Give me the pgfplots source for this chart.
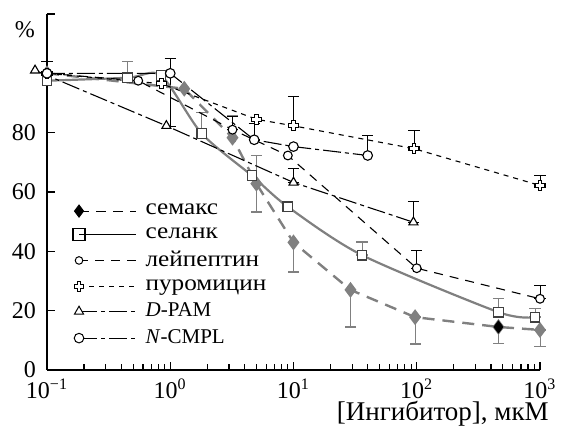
\documentclass[border=0pt]{standalone}
\usepackage{fontspec}
\setmainfont{Liberation Serif}
\usepackage{pgfplots}
\pgfplotsset{compat=1.18}
\usepackage{pgfplotstable}
\definecolor{gr}{gray}{0.5}
\newcommand{\cyr}[1]{\scalebox{1.2}[1.08]{#1}}

\pgfdeclareplotmark{ocross}{%
  \pgfpathmoveto{\pgfqpoint{-0.38\pgfplotmarksize}{\pgfplotmarksize}}%
  \pgfpathlineto{\pgfqpoint{0.38\pgfplotmarksize}{\pgfplotmarksize}}%
  \pgfpathlineto{\pgfqpoint{0.38\pgfplotmarksize}{0.38\pgfplotmarksize}}%
  \pgfpathlineto{\pgfqpoint{\pgfplotmarksize}{0.38\pgfplotmarksize}}%
  \pgfpathlineto{\pgfqpoint{\pgfplotmarksize}{-0.38\pgfplotmarksize}}%
  \pgfpathlineto{\pgfqpoint{0.38\pgfplotmarksize}{-0.38\pgfplotmarksize}}%
  \pgfpathlineto{\pgfqpoint{0.38\pgfplotmarksize}{-\pgfplotmarksize}}%
  \pgfpathlineto{\pgfqpoint{-0.38\pgfplotmarksize}{-\pgfplotmarksize}}%
  \pgfpathlineto{\pgfqpoint{-0.38\pgfplotmarksize}{-0.38\pgfplotmarksize}}%
  \pgfpathlineto{\pgfqpoint{-\pgfplotmarksize}{-0.38\pgfplotmarksize}}%
  \pgfpathlineto{\pgfqpoint{-\pgfplotmarksize}{0.38\pgfplotmarksize}}%
  \pgfpathlineto{\pgfqpoint{-0.38\pgfplotmarksize}{0.38\pgfplotmarksize}}%
  \pgfpathclose
  \pgfusepathqfillstroke}

\pgfplotstableread{
x y
0.1 100
1.3 94.8
3.2 78.3
5 62.8
10 43
29 27
97 17.8
460 14.5
1000 13.5
}\semax
\pgfplotstableread{
x y
0.1 97.5
0.45 98.5
0.84 99.3
1.8 79.7
4.6 65.5
9 55
36 38.7
460 19.5
910 17.8
}\selank
\pgfplotstableread{
x y
0.1 100
0.55 97.5
3.2 81
9 72.3
100 34.3
1000 24
}\leup
\pgfplotstableread{
x y
0.1 100
0.85 96.5
5 84.5
10 82.3
95 74.6
1000 62.2
}\puro
\pgfplotstableread{
x y
0.08 101
0.93 82.3
10 63.2
94 49.8
}\dpam
\pgfplotstableread{
x y
0.1 100
1 100
4.8 77.6
10 75.3
40 72.3
}\ncmpl
\pgfplotstableread{
x y ep em
0.45 98.5 5.5 0
1.8 79.7 7 0
3.2 78.3 7.4 0
5 62.8 9.5 9.5
10 43 0 10
29 27 0 12.5
36 38.7 4.5 0
97 17.8 0 9
460 14.5 0 5.5
460 19.5 4.5 0
910 17.8 3 0
1000 13.5 0 5.5
}\grerr
\pgfplotstableread{
x y ep em
0.1 100 4 0
1 100 5 18
3.2 81 4.4 0
4.8 77.6 5.5 0
10 82.3 10 0
10 63.2 4.8 0
40 72.3 6.7 0
94 49.8 7 0
95 74.6 6 0
100 34.3 6 0
1000 24 4.5 0
1000 62.2 3.3 0
}\bkerr

\begin{document}
\begin{tikzpicture}
\begin{axis}[
  name=ax,
  scale only axis, width=246.5pt, height=178pt,
  xmode=log, xmin=0.1, xmax=1000, ymin=0, ymax=120,
  axis lines=left, axis line style={-, line width=0.6pt},
  clip=false,
  tick align=inside, major tick length=4pt,
  every tick/.style={black, line width=0.6pt},
  xtick={0.1,1,10,100,1000},
  xticklabels={10\textsuperscript{−1},10\textsuperscript{0},10\textsuperscript{1},10\textsuperscript{2},10\textsuperscript{3}},
  minor xtick={},
  ytick={0,20,40,60,80,120},
  yticklabels={0,20,40,60,80,{}},
  tick label style={font=\fontsize{12}{14}\selectfont},
  yticklabel style={xshift=-2pt},
  xticklabel style={yshift=-1pt},
  legend style={draw=none, fill=none, at={(0.052,0.478)}, anchor=north west,
    font=\fontsize{10.5}{12}\selectfont, row sep=0.9pt, column sep=2.5pt, inner sep=0pt,
    cells={anchor=west}},
  legend image code/.code={\draw[mark repeat=2,mark phase=1,#1] plot coordinates {(0pt,0pt) (28.5pt,0pt)};},
  legend cell align=left,
]
% legend images
\addlegendimage{black, line width=0.5pt, dash pattern=on 5pt off 3.5pt, mark=diamond*, mark size=3pt, mark options={solid, fill=black}}
\addlegendentry{\cyr{семакс}}
\addlegendimage{black, line width=0.6pt, mark=square, mark size=3pt, mark options={solid, fill=white}}
\addlegendentry{\cyr{селанк}}
\addlegendimage{black, line width=0.5pt, dash pattern=on 4.5pt off 3.5pt, mark=*, mark size=1.9pt, mark options={solid, fill=white}}
\addlegendentry{\cyr{лейпептин}}
\addlegendimage{black, line width=0.5pt, dash pattern=on 2.5pt off 2.5pt, mark=ocross, mark size=2.4pt, mark options={solid, fill=white}}
\addlegendentry{\cyr{пуромицин}}
\addlegendimage{black, line width=0.5pt, dash pattern=on 9pt off 2pt on 2pt off 2pt, mark=triangle*, mark size=2.6pt, mark options={solid, fill=white}}
\addlegendentry{\textit{D}-PAM}
\addlegendimage{black, line width=0.5pt, dash pattern=on 9pt off 2pt on 2pt off 2pt, mark=*, mark size=2.4pt, mark options={solid, fill=white}}
\addlegendentry{\textit{N}-CMPL}

% error bars
\addplot[forget plot, draw=none, mark=none, gr, line width=0.7pt,
  error bars/.cd, y dir=both, y explicit, error mark options={gr, line width=0.7pt, mark size=2.8pt, rotate=90}]
  table[x=x, y=y, y error plus=ep, y error minus=em] {\grerr};
\addplot[forget plot, draw=none, mark=none, black, line width=0.5pt,
  error bars/.cd, y dir=both, y explicit, error mark options={black, line width=0.5pt, mark size=2.8pt, rotate=90}]
  table[x=x, y=y, y error plus=ep, y error minus=em] {\bkerr};

% series
\addplot[forget plot, gr, line width=1.2pt, dash pattern=on 6pt off 4pt, mark=diamond*, mark size=3pt, mark options={solid, fill=gr, draw=gr}] table[x=x,y=y] {\semax};
\addplot[forget plot, gr, line width=1.1pt, smooth, tension=0.45, mark=square*, mark size=2.4pt, mark options={solid, fill=white, draw=black!75, line width=0.6pt}] table[x=x,y=y] {\selank};
\addplot[forget plot, black, line width=0.55pt, dash pattern=on 4.5pt off 3.5pt, mark=*, mark size=2.2pt, mark options={solid, fill=white}] table[x=x,y=y] {\leup};
\addplot[forget plot, black, line width=0.55pt, dash pattern=on 2.5pt off 2.5pt, mark=ocross, mark size=2.5pt, mark options={solid, fill=white}] table[x=x,y=y] {\puro};
\addplot[forget plot, black, line width=0.55pt, dash pattern=on 9pt off 2pt on 2pt off 2pt, mark=triangle*, mark size=2.6pt, mark options={solid, fill=white}] table[x=x,y=y] {\dpam};
\addplot[forget plot, black, line width=0.55pt, dash pattern=on 9pt off 2pt on 2pt off 2pt, mark=*, mark size=2.4pt, mark options={solid, fill=white}] table[x=x,y=y] {\ncmpl};
\addplot[forget plot, only marks, black, mark=diamond*, mark size=3pt] coordinates {(460,14.5)};

\node[anchor=center, font=\fontsize{12}{14}\selectfont] at (axis description cs:-0.045,0.955) {\%};
\node[anchor=east, font=\fontsize{13.5}{15}\selectfont] at (axis description cs:1.032,-0.124) {[Ингибитор], мкМ};
\end{axis}
\pgfresetboundingbox
\path ([xshift=-23.5pt,yshift=-31pt]ax.south west) rectangle ([xshift=11pt,yshift=7pt]ax.north east);
\end{tikzpicture}
\end{document}
